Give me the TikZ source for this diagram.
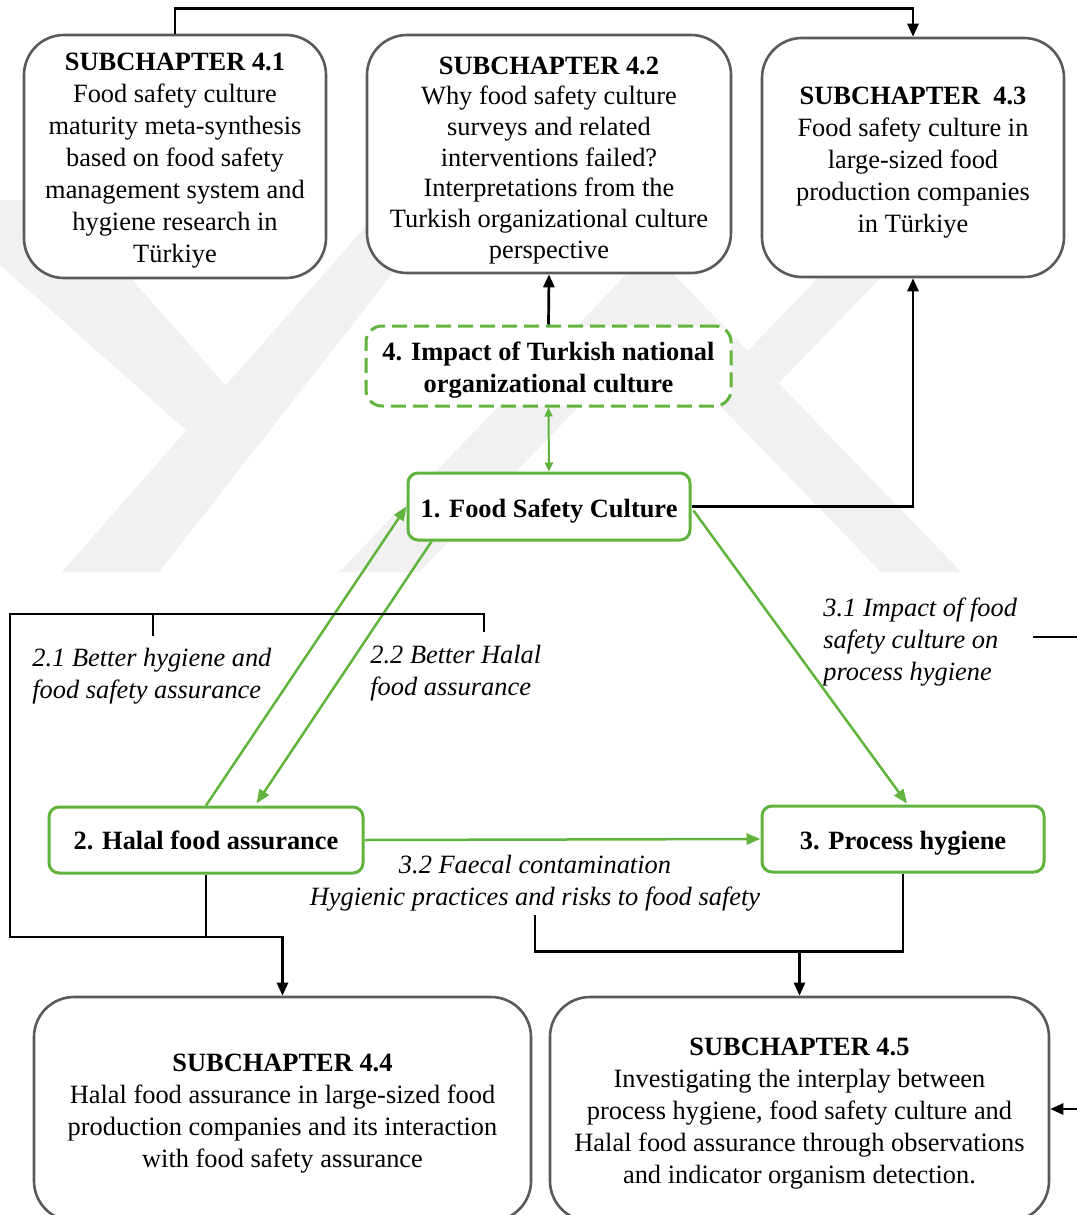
\documentclass[tikz,border=0pt]{standalone}
\usepackage{fontspec}
\setmainfont{Liberation Serif}
\usetikzlibrary{arrows.meta,calc}

\definecolor{fsgreen}{RGB}{96,180,62}
\definecolor{boxgrey}{RGB}{90,90,90}
\definecolor{wmgrey}{RGB}{241,241,241}

% strut that lowers a centred text block a little inside its box
\newcommand\toppad[1]{\rule{0pt}{#1}}

\tikzset{
  txt/.style={font=\fontsize{13.2}{16}\selectfont, align=center, inner sep=0pt},
  subbox/.style={txt, draw=boxgrey, line width=1.3pt, rounded corners=20pt, fill=white},
  greenbox/.style={txt, font=\fontsize{13.2}{16}\selectfont\bfseries, draw=fsgreen, line width=1.5pt, rounded corners=5pt, fill=white},
  dashbox/.style={greenbox, dash pattern=on 7.5pt off 3.5pt, rounded corners=8pt},
  lbl/.style={font=\fontsize{13.2}{16}\selectfont\itshape, inner sep=0pt},
  blk/.style={draw=black, line width=1.35pt},
  blkarr/.style={blk, -{Triangle[length=6.5pt,width=5.5pt]}},
  grarr/.style={draw=fsgreen, line width=1.25pt, -{Triangle[length=7pt,width=5.5pt]}},
  grdbl/.style={draw=fsgreen, line width=1pt, {Triangle[length=4.5pt,width=4pt]}-{Triangle[length=4.5pt,width=4pt]}},
  wm/.style={fill=wmgrey, draw=none},
}

\begin{document}
\begin{tikzpicture}[x=0.5pt,y=-0.5pt]
\useasboundingbox (0,0) rectangle (1076,1215);
\fill[white] (0,0) rectangle (1076,1215);

% faint emblem in the background
\fill[wm] (0,200) -- (62,200) -- (226,386) -- (186,430) -- (0,265) -- cycle;
\fill[wm] (389,200) -- (450,200) -- (159,572) -- (62,572) -- cycle;
\fill[wm] (339,572) -- (650,250) -- (961,572) -- (881,572) -- (650,333) -- (419,572) -- cycle;
\fill[wm] (893,200) -- (955,200) -- (779,383) -- (748,351) -- cycle;

% subchapter boxes
\node[subbox, minimum width=302*0.5pt, minimum height=243*0.5pt] (s41) at (175,156.5)
  {\toppad{13pt}\textbf{SUBCHAPTER 4.1}\\Food safety culture\\maturity meta-synthesis\\based on food safety\\management system and\\hygiene research in\\Türkiye};
\node[subbox, font=\fontsize{13.2}{15.33}\selectfont, minimum width=364*0.5pt, minimum height=238*0.5pt] (s42) at (549,154)
  {\toppad{15pt}\textbf{SUBCHAPTER 4.2}\\Why food safety culture\\surveys and related\\interventions failed?\\Interpretations from the\\Turkish organizational culture\\perspective};
\node[subbox, minimum width=302*0.5pt, minimum height=239*0.5pt] (s43) at (913,157.5)
  {\toppad{14pt}\textbf{SUBCHAPTER\ \ 4.3}\\Food safety culture in\\large-sized food\\production companies\\in Türkiye};
\node[subbox, minimum width=497*0.5pt, minimum height=224*0.5pt] (s44) at (282.5,1109)
  {\toppad{13pt}\textbf{SUBCHAPTER 4.4}\\Halal food assurance in large-sized food\\production companies and its interaction\\with food safety assurance};
\node[subbox, minimum width=499*0.5pt, minimum height=224*0.5pt] (s45) at (799.5,1109)
  {\toppad{13pt}\textbf{SUBCHAPTER 4.5}\\Investigating the interplay between\\process hygiene, food safety culture and\\Halal food assurance through observations\\and indicator organism detection.};

% central concept boxes
\node[dashbox, minimum width=365*0.5pt, minimum height=80*0.5pt] (b4) at (548.5,366)
  {\toppad{13pt}4. Impact of Turkish national\\organizational culture};
\node[greenbox, minimum width=282*0.5pt, minimum height=67*0.5pt] (b1) at (549,506.5)
  {\toppad{14pt}1. Food Safety Culture};
\node[greenbox, minimum width=314*0.5pt, minimum height=66*0.5pt] (b2) at (206,840)
  {\toppad{10pt}2. Halal food assurance};
\node[greenbox, minimum width=282*0.5pt, minimum height=66*0.5pt] (b3) at (903,839)
  {\toppad{13pt}3. Process hygiene};

% relation labels
\node[lbl, anchor=west, align=left] (l21) at (32,676) {2.1 Better hygiene and\\food safety assurance};
\node[lbl, anchor=west, align=left] (l22) at (370,673) {2.2 Better Halal\\food assurance};
\node[lbl, anchor=west, align=left] (l31) at (823,642) {3.1 Impact of food\\safety culture on\\process hygiene};
\node[lbl, align=center] (l32) at (535,883) {3.2 Faecal contamination\\Hygienic practices and risks to food safety};

% free ends of the feedback lines
\coordinate (t21) at (153,636);
\coordinate (t22) at (484,632);
\coordinate (t31) at (1033,637);
\coordinate (t32) at (535,915);

% links between the subchapters and the concepts
\draw[blkarr] (s41.north) -- ++(0,-25) -| (s43.north);
\draw[blkarr] (b4.north) -- (s42.south);
\draw[blkarr] (b1.east) -| (s43.south);
\draw[grdbl] (b4.south) -- (b1.north);

\draw[grarr] (b2.north) -- (b1.west);
\draw[grarr] ($(b1.south west)+(25,0)$) -- ($(b2.north west)+(209,-2)$);
\draw[grarr] ($(b1.east)+(2,4)$) -- ($(b3.north)+(4,-1)$);
\draw[grarr] (b2.east) -- (b3.west);

% labels 2.1 / 2.2 and box 2 feed subchapter 4.4
\draw[blk] (t21) -- (153,614);
\draw[blkarr] (t22) -- ++(0,-18) -| (10,937) -| (s44.north);
\draw[blk] (b2.south) |- (s44.north |- 0,937);

% label 3.2 and box 3 feed subchapter 4.5
\draw[blk] (b3.south) -- ++(0,78) -| (t32);
\draw[blkarr] (s45.north |- 0,950) -- (s45.north);

% label 3.1 feeds subchapter 4.5 along the right margin
\draw[blkarr] (t31) -- (1110,637) |- (s45.east);
\end{tikzpicture}
\end{document}
